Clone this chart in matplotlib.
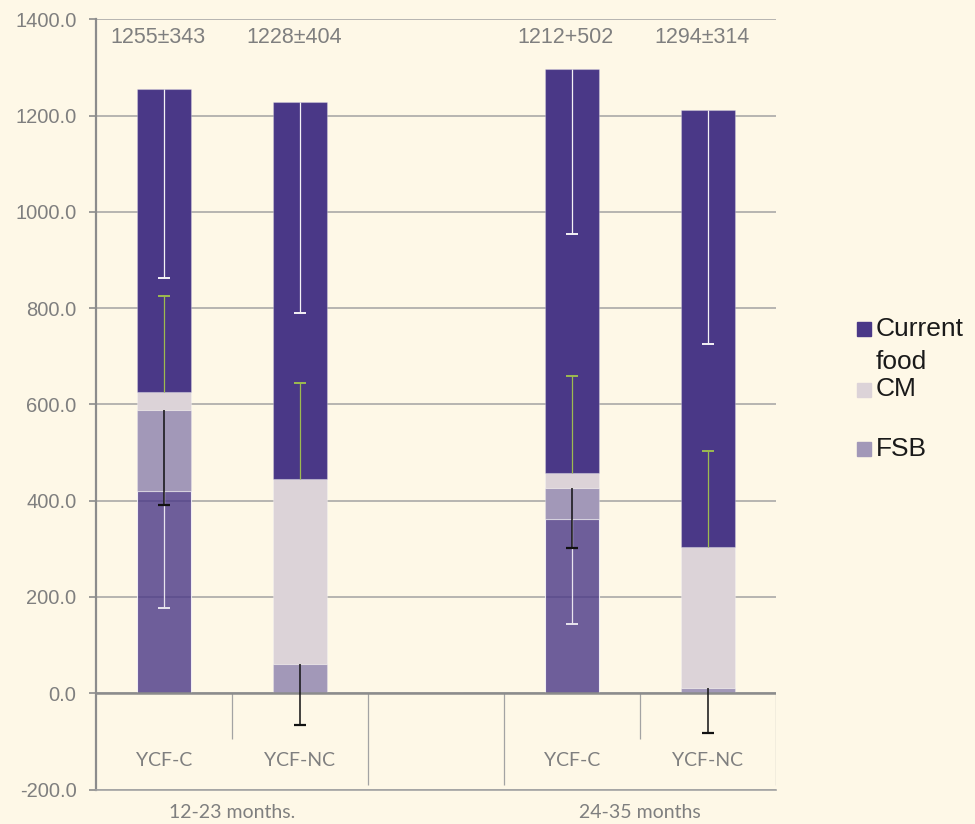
import matplotlib
matplotlib.use('Agg')
import matplotlib.pyplot as plt
import numpy as np
from matplotlib.patches import Rectangle

groups = ['YCF-C', 'YCF-NC', '', 'YCF-C', 'YCF-NC']
periods = ['12-23 months.', '24-35 months']
period_pos = [0.5, 3.5]
totals_text = ['1255±343', '1228±404', '', '1212+502', '1294±314']

# stacked segments, bottom to top
base_seg     = [421, 0, 0, 361, 0]      # lower part (not in legend)
fsb          = [167, 60, 0, 66, 10]
cm           = [37, 384, 0, 31, 293]
current_food = [630, 784, 0, 838, 909]

# one-sided error bars drawn from the top of each segment
base_err = [244, 0, 0, 218, 0]      # down
fsb_err  = [197, 126, 0, 126, 92]   # down
cm_err   = [200, 200, 0, 200, 200]  # up
food_err = [392, 439, 0, 343, 487]  # down

BG      = '#FEF8E7'
C_FOOD  = '#4A3887'
C_CM    = '#DCD3D8'
C_FSB   = '#A298B8'
GRID    = '#A3A3A3'
TXT     = '#7F7F7F'

plt.rcParams['font.family'] = ['Liberation Sans', 'DejaVu Sans']

fig = plt.figure(figsize=(9.75, 8.24), dpi=100)
fig.patch.set_facecolor(BG)
ax = fig.add_axes([96/975, 1 - 789.5/824, 680/975, 770.2/824])
ax.set_facecolor(BG)

x = np.arange(len(groups))
w = 0.4
edge = dict(edgecolor=(1, 1, 1, 0.25), linewidth=0.8, zorder=2)

b0 = np.array(base_seg, float)
b1 = b0 + np.array(fsb)
b2 = b1 + np.array(cm)
b3 = b2 + np.array(current_food)

ax.bar(x, base_seg, w, color=C_FOOD, alpha=0.8, **edge)
ax.bar(x, fsb, w, bottom=b0, color=C_FSB, **edge)
ax.bar(x, cm, w, bottom=b1, color=C_CM, **edge)
ax.bar(x, current_food, w, bottom=b2, color=C_FOOD, **edge)


def one_sided(top, err, sign, color, lw):
    err = np.asarray(err, float)
    m = err > 0
    end = top + sign * err
    ax.vlines(x[m], top[m], end[m], color=color, lw=lw, zorder=4)
    ax.plot(x[m], end[m], ls='none', marker='_', ms=8, mew=lw + 0.5,
            color=color, zorder=4)


one_sided(b3, food_err, -1, '#F4F2F6', 0.9)
one_sided(b2, cm_err, 1, '#9DBB4F', 0.9)
one_sided(b0, base_err, -1, '#E8E4EE', 0.9)
one_sided(b1, fsb_err, -1, '#111111', 1.1)

ax.set_xlim(-0.5, 4.5)
ax.set_ylim(-200, 1400)
ax.set_yticks(np.arange(-200, 1401, 200))
ax.yaxis.set_major_formatter(plt.FormatStrFormatter('%.1f'))
ax.set_xticks([])
ax.grid(axis='y', color=GRID, lw=1.1, zorder=0)
ax.set_axisbelow(True)
ax.tick_params(axis='y', direction='out', length=5, width=1.2, color='#8C8C8C',
               labelcolor=TXT, labelsize=14.5, pad=9)

for s in ['top', 'right']:
    ax.spines[s].set_visible(False)
ax.spines['left'].set_color('#8C8C8C')
ax.spines['left'].set_linewidth(1.6)
ax.spines['bottom'].set_color(GRID)
ax.spines['bottom'].set_linewidth(1.2)

ax.axhline(0, color='#8C8C8C', lw=1.8, zorder=3)
ax.vlines([0.5, 3.5], -96, 0, color=GRID, lw=0.9, zorder=1)
ax.vlines([1.5, 2.5, 4.5], -190, 0, color=GRID, lw=0.9, zorder=1)

for xi, g in zip(x, groups):
    ax.text(xi, -140, g, ha='center', va='center', fontsize=14, color=TXT,
            family=['Lato', 'DejaVu Sans'])
for xp, p in zip(period_pos, periods):
    ax.text(xp, -247, p, ha='center', va='center', fontsize=14, color=TXT,
            family=['Lato', 'DejaVu Sans'], clip_on=False)
for xi, t in zip(x, totals_text):
    ax.text(xi - 0.045, 1363, t, ha='center', va='center', fontsize=15.5, color=TXT)

# legend (square baseline in px from top, second line 33 px lower)
leg = [('Current', 'food', C_FOOD, 336), ('CM', '', C_CM, 396.5), ('FSB', '', C_FSB, 456.5)]
for line1, line2, col, base in leg:
    fig.patches.append(Rectangle((857/975, 1 - base/824), 14/975, 14/824,
                                 transform=fig.transFigure, color=col))
    fig.text(876/975, 1 - base/824, line1, ha='left', va='baseline',
             fontsize=19, color='#1A1A1A')
    if line2:
        fig.text(876/975, 1 - (base + 33)/824, line2, ha='left', va='baseline',
                 fontsize=19, color='#1A1A1A')

fig.savefig('out.png', dpi=100, facecolor=BG)
